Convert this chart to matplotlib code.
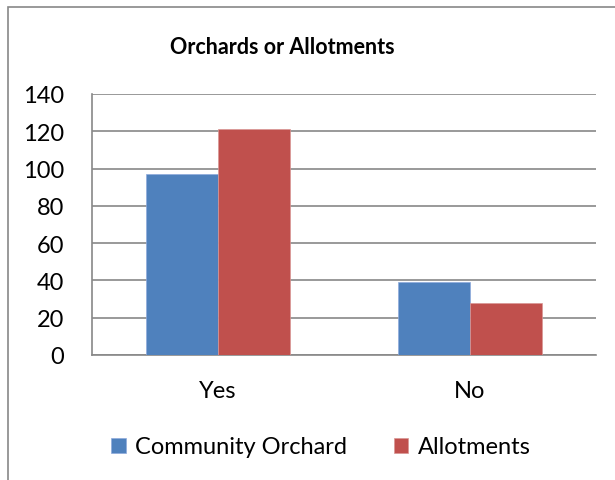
import matplotlib.pyplot as plt
import numpy as np
from matplotlib.patches import Rectangle

categories = ['Yes', 'No']
community_orchard = [97, 39]
allotments = [121, 28]
series_names = ['Community Orchard', 'Allotments']
yticks = [0, 20, 40, 60, 80, 100, 120, 140]

plt.rcParams['font.family'] = ['Lato', 'DejaVu Sans']

W, H = 615, 481
fig = plt.figure(figsize=(W / 100, H / 100), dpi=100)

# outer chart frame (only left and top edges show in the crop)
fig.patches.append(Rectangle((8 / W, -0.1), 1.2, 1 - 8 / H + 0.1, transform=fig.transFigure,
                             fill=False, edgecolor='#888888', linewidth=1.2))

ax = fig.add_axes([92 / W, 1 - 356 / H, (596 - 92) / W, (356 - 95) / H])

x = np.arange(len(categories))
w = 0.2857
ax.bar(x - w / 2, community_orchard, w, color='#4F81BD', edgecolor='#8FAADC', linewidth=0.5,
       label=series_names[0], zorder=3)
ax.bar(x + w / 2, allotments, w, color='#C0504D', edgecolor='#D99694', linewidth=0.5,
       label=series_names[1], zorder=3)

ax.set_xlim(-0.5, len(categories) - 0.5)
ax.set_ylim(0, 140)
ax.set_yticks(yticks)
ax.set_xticks(x)
ax.set_xticklabels(categories)
ax.tick_params(axis='both', length=0, labelsize=17)
ax.tick_params(axis='y', pad=20)
ax.tick_params(axis='x', pad=18)
ax.grid(axis='y', color='#888888', linewidth=1.2, zorder=0)
for s in ['top', 'right']:
    ax.spines[s].set_visible(False)
ax.spines['left'].set_color('#888888')
ax.spines['bottom'].set_color('#888888')
ax.spines['left'].set_linewidth(1.2)
ax.spines['bottom'].set_linewidth(1.2)

fig.text(282 / W, 1 - 47 / H, 'Orchards or Allotments', ha='center', va='center',
         fontsize=15.5, fontweight='bold')

fig.legend(loc='center', bbox_to_anchor=(321 / W, 1 - 448 / H), ncol=2, frameon=False,
           fontsize=17, handlelength=0.6, handleheight=0.6, handletextpad=0.4, columnspacing=2.0)

fig.savefig('out.png', dpi=100)
